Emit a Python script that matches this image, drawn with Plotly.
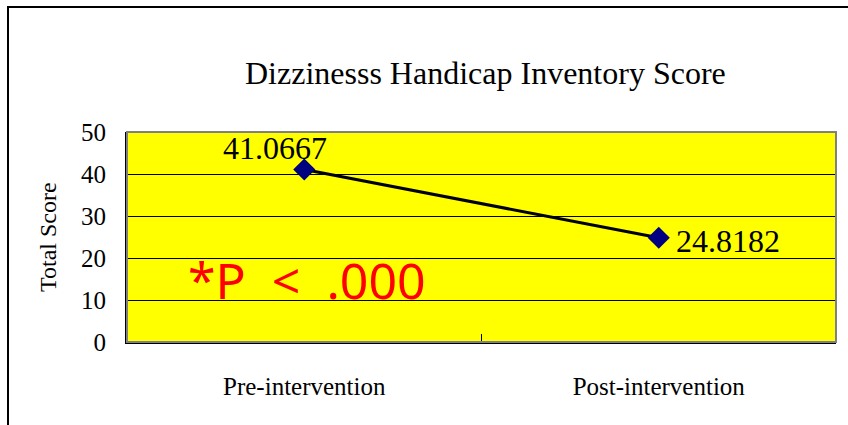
import plotly.graph_objects as go

categories = ["Pre-intervention", "Post-intervention"]
scores = [41.0667, 24.8182]
label_texts = ["41.0667", "24.8182"]
y_ticks = [0, 10, 20, 30, 40, 50]
title_text = "Dizzinesss Handicap Inventory Score"
y_title = "Total Score"
p_text = "*P&nbsp;&nbsp;&lt;&nbsp;&nbsp;.000"

x_pos = list(range(len(categories)))

fig = go.Figure()
fig.add_trace(go.Scatter(
    x=x_pos, y=scores, mode="lines+markers",
    line=dict(color="black", width=3),
    marker=dict(symbol="diamond", size=17, color="#000080", line=dict(width=0)),
    cliponaxis=False, showlegend=False, hoverinfo="skip",
))

serif = "Liberation Serif, Times New Roman, serif"

# data labels
shifts = [(-29, 22), (69, -3)]
for xi, yi, t, (dx, dy) in zip(x_pos, scores, label_texts, shifts):
    fig.add_annotation(x=xi, y=yi, text=t, showarrow=False, xshift=dx, yshift=dy,
                       xanchor="center", yanchor="middle",
                       font=dict(family=serif, size=32, color="black"))

fig.add_annotation(xref="paper", yref="paper", x=(307 - 127) / 709, y=(342 - 280) / 210,
                   xanchor="center", yanchor="middle", text=p_text, showarrow=False,
                   font=dict(family="Noto Sans, Liberation Sans, sans-serif", size=50, color="#ff0000"))

fig.add_annotation(xref="paper", yref="paper", x=(48 - 127) / 709, y=0.5, text=y_title,
                   xanchor="center", yanchor="middle",
                   textangle=-90, showarrow=False, font=dict(family=serif, size=24, color="black"))

fig.add_annotation(xref="paper", yref="paper", x=(485 - 127) / 709, y=(342 - 73) / 210,
                   text=title_text, showarrow=False, xanchor="center", yanchor="middle",
                   font=dict(family=serif, size=32, color="black"))

# plot area gray border
fig.add_shape(type="rect", xref="x domain", yref="y domain", x0=0, x1=1, y0=0, y1=1,
              line=dict(color="#808080", width=2), layer="above")
# outer chart border
fig.add_shape(type="rect", xref="paper", yref="paper",
              x0=(8 - 127) / 709, x1=(856 - 127) / 709, y0=(342 - 440) / 210, y1=(342 - 7) / 210,
              line=dict(color="black", width=2))

fig.update_layout(
    width=848, height=425,
    margin=dict(l=127, r=12, t=132, b=83),
    paper_bgcolor="white", plot_bgcolor="#ffff00",
    xaxis=dict(range=[-0.5, 1.5], tickvals=x_pos, ticktext=categories, ticks="",
               showgrid=False, zeroline=False, showline=True, linecolor="black", linewidth=2,
               tickfont=dict(family=serif, size=25, color="black"), ticklabelstandoff=21,
               minor=dict(tickvals=[0.5], ticks="inside", ticklen=8, tickcolor="black", showgrid=False)),
    yaxis=dict(range=[0, 50], tickvals=y_ticks, ticks="inside", ticklen=8, tickcolor="black",
               showgrid=True, gridcolor="black", gridwidth=1, zeroline=False,
               showline=True, linecolor="black", linewidth=2,
               tickfont=dict(family=serif, size=25, color="black"), ticklabelstandoff=14),
)

fig.write_html("out.html", config={"displayModeBar": False},
               post_script="document.body.style.margin='0';")
